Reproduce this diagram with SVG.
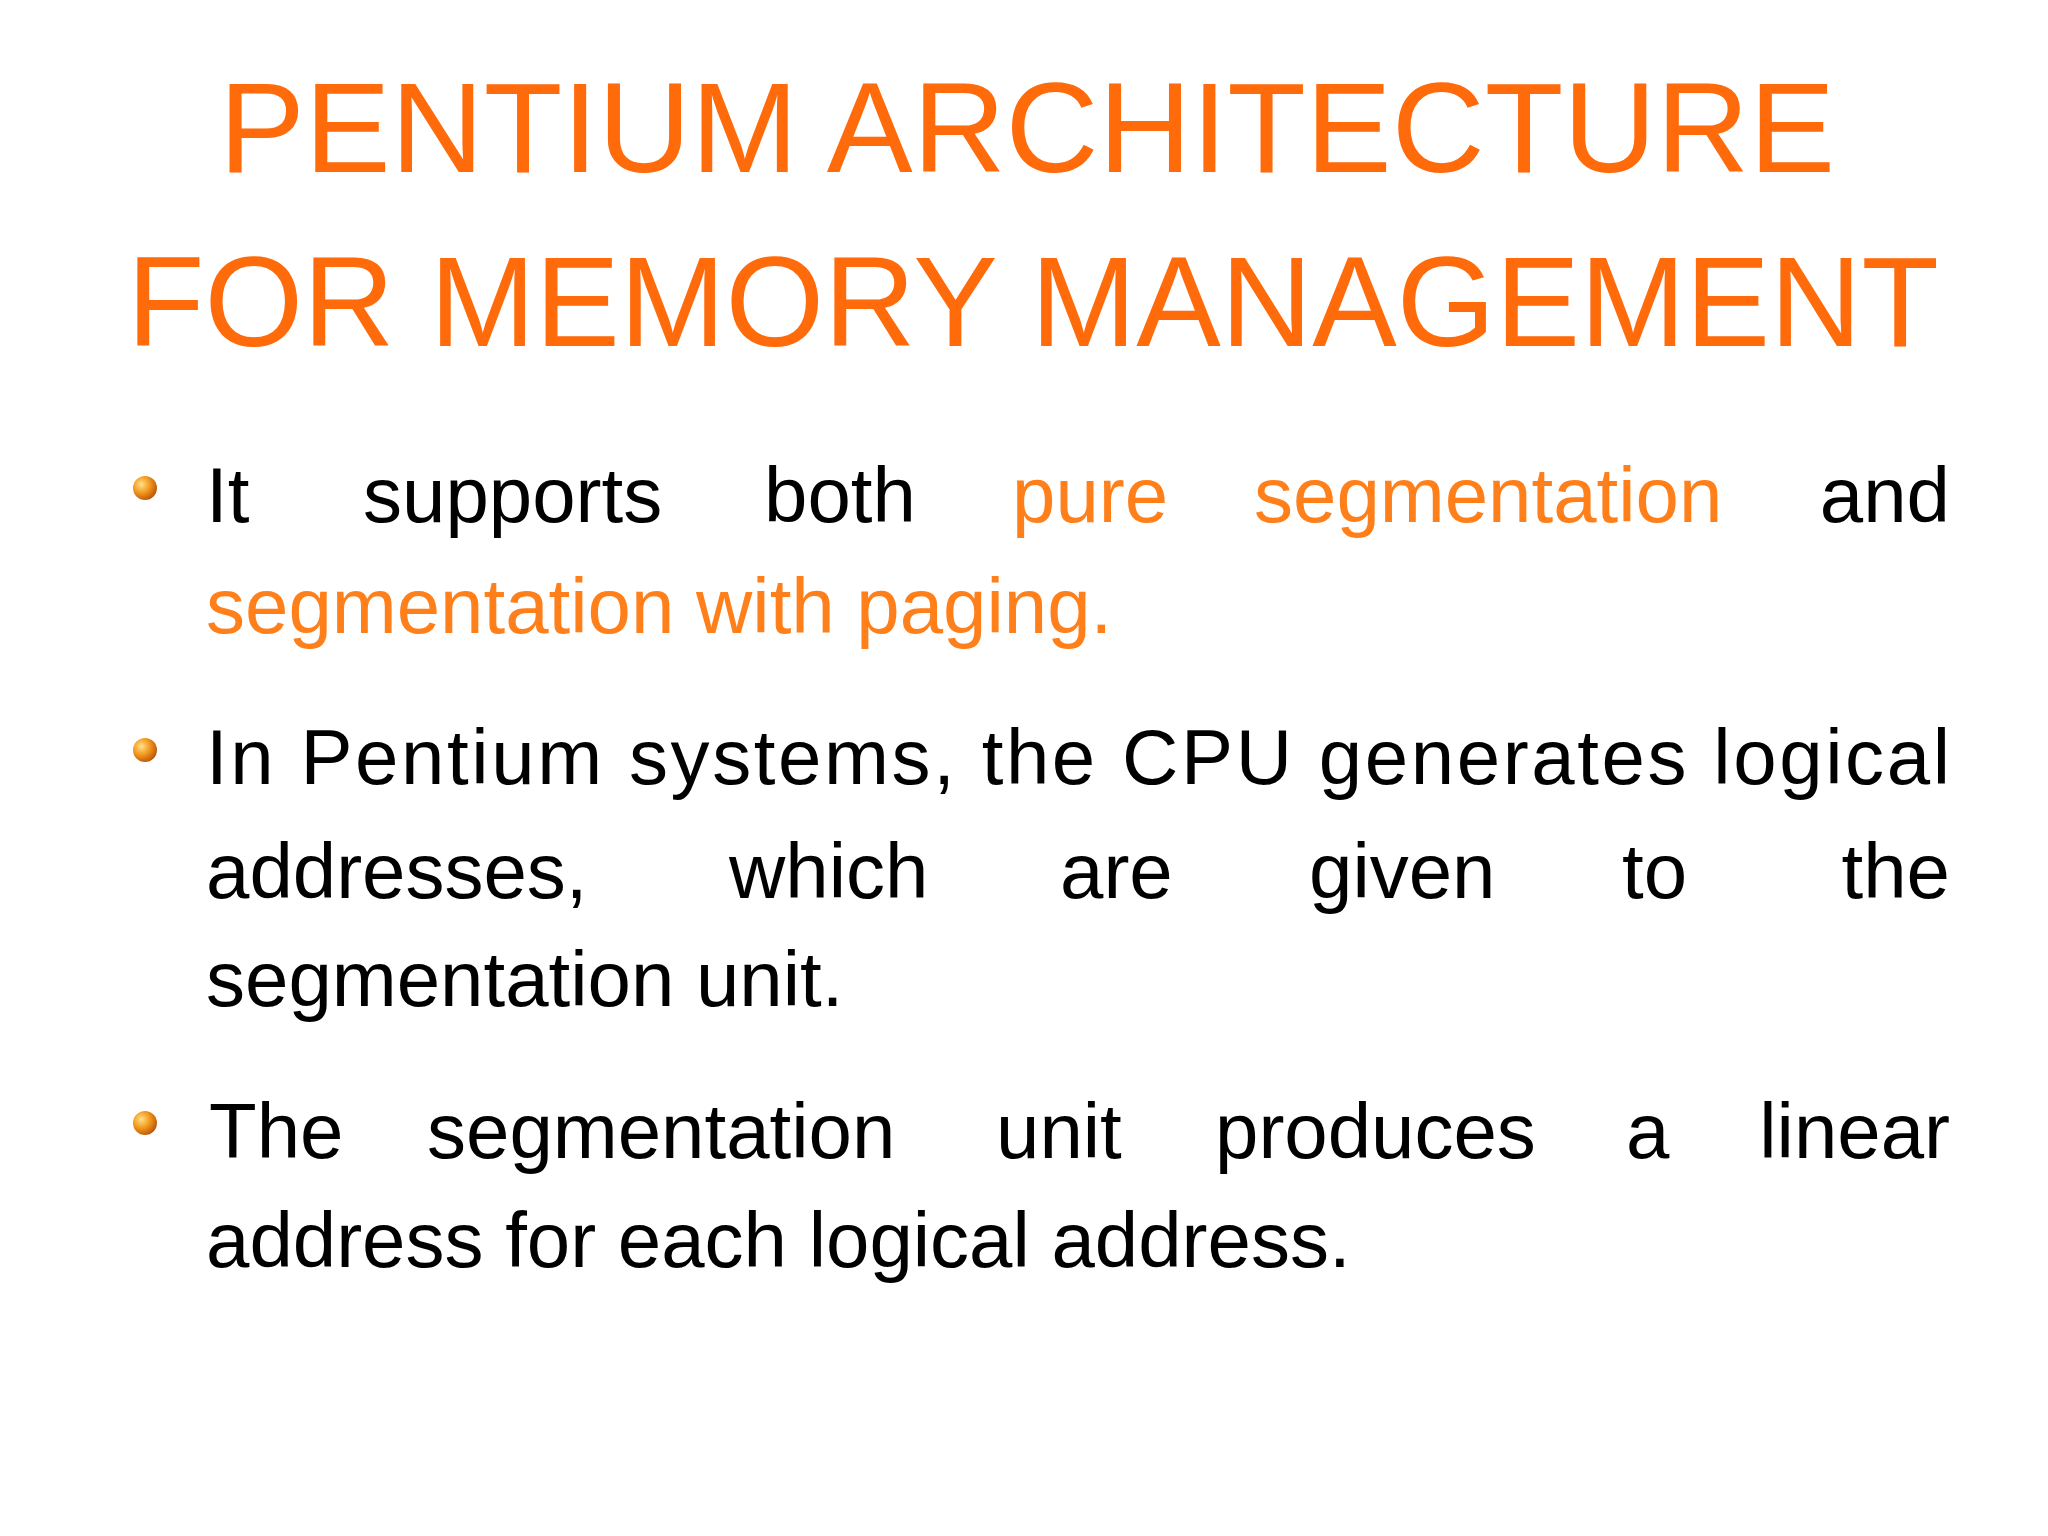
<svg xmlns="http://www.w3.org/2000/svg" width="2048" height="1536" viewBox="0 0 2048 1536">
<defs>
<radialGradient id="ball" cx="0.35" cy="0.35" r="0.7">
<stop offset="0" stop-color="#FFE08A"/><stop offset="0.5" stop-color="#F39A1E"/><stop offset="1" stop-color="#B8560A"/>
</radialGradient>
</defs>
<style>
.t{font-family:"Liberation Sans",sans-serif;font-size:128px;fill:#FF6A0A}
.b{font-family:"Liberation Sans",sans-serif;font-size:78px;fill:#000}
.o{fill:#FF7F1A}
</style>
<rect width="2048" height="1536" fill="#fff"/>
<g id="title">
<text class="t" x="219" y="172" textLength="1616" lengthAdjust="spacingAndGlyphs">PENTIUM ARCHITECTURE</text>
<text class="t" x="127" y="346" textLength="1812" lengthAdjust="spacingAndGlyphs">FOR MEMORY MANAGEMENT</text>
</g>
<g id="bullets">
<circle cx="145" cy="488" r="12" fill="url(#ball)"/>
<circle cx="145" cy="750" r="12" fill="url(#ball)"/>
<circle cx="145" cy="1123" r="12" fill="url(#ball)"/>
</g>
<g id="text">
<text class="b" y="522"><tspan x="206">It</tspan><tspan x="363">supports</tspan><tspan x="764">both</tspan><tspan class="o" x="1012">pure</tspan><tspan class="o" x="1254">segmentation</tspan></text>
<text class="b" x="1950" y="522" text-anchor="end">and</text>
<text class="b o" x="206" y="633">segmentation with paging.</text>
<text class="b" x="206" y="784" textLength="1744" lengthAdjust="spacing">In Pentium systems, the CPU generates logical</text>
<text class="b" y="898"><tspan x="206">addresses,</tspan><tspan x="729">which</tspan><tspan x="1060">are</tspan><tspan x="1309">given</tspan><tspan x="1622">to</tspan></text>
<text class="b" x="1950" y="898" text-anchor="end">the</text>
<text class="b" x="206" y="1006">segmentation unit.</text>
<text class="b" y="1158"><tspan x="209">The</tspan><tspan x="427">segmentation</tspan><tspan x="996">unit</tspan><tspan x="1215">produces</tspan><tspan x="1626">a</tspan></text>
<text class="b" x="1950" y="1158" text-anchor="end">linear</text>
<text class="b" x="206" y="1267">address for each logical address.</text>
</g>
</svg>
